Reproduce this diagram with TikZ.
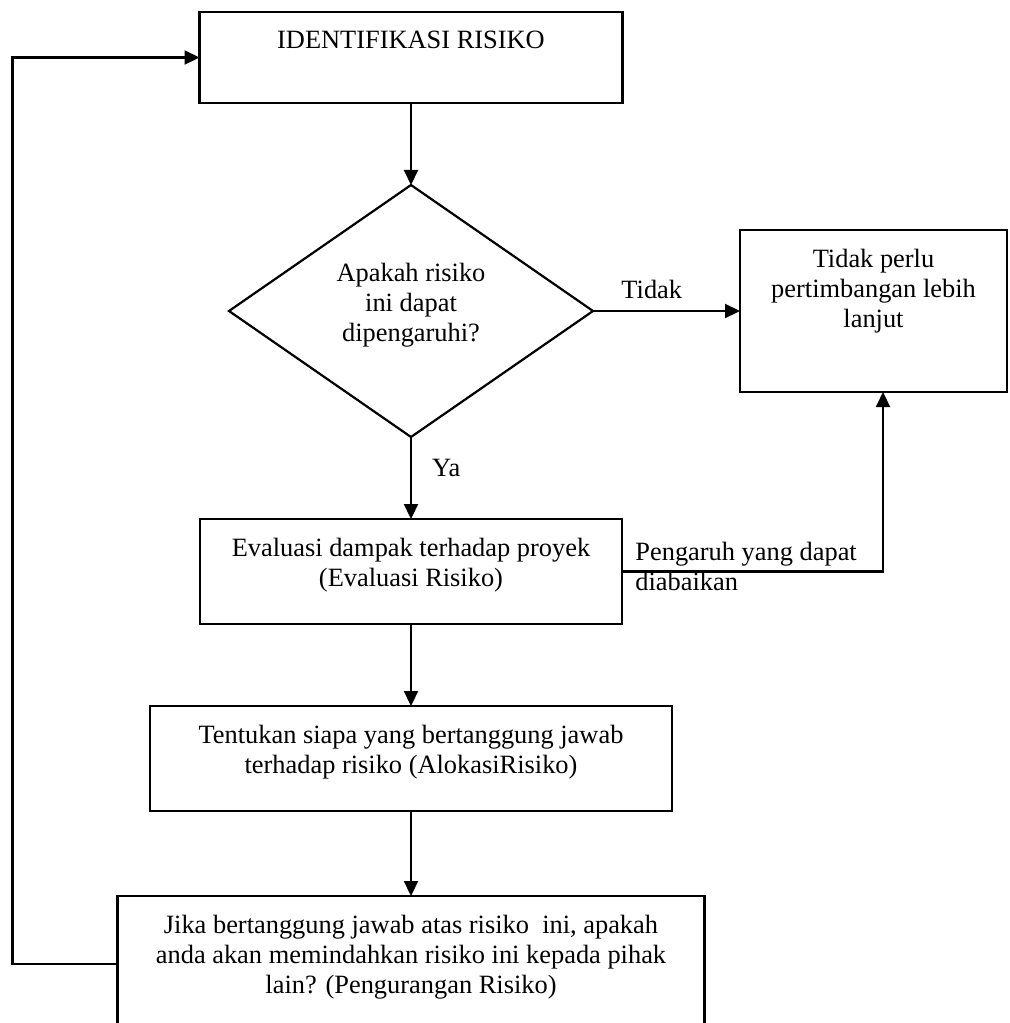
\documentclass[tikz,border=0pt]{standalone}
\usepackage{fontspec}
\setmainfont{Liberation Serif}
\usetikzlibrary{positioning,shapes.geometric,arrows.meta}

\tikzset{
  box/.style={draw, line width=1.1pt, rectangle, outer sep=0pt},
  decision/.style={draw, line width=1.1pt, diamond, outer sep=0pt,
    minimum width=182pt, minimum height=126pt},
  txt/.style={font=\fontsize{13.2pt}{15pt}\selectfont, align=center, inner sep=0pt},
  flow/.style={line width=1.1pt, -{Triangle[length=7.5pt,width=7pt]}},
}

\begin{document}
\begin{tikzpicture}[x=0.5pt,y=-0.5pt]

    \path[use as bounding box, clip] (0,0) rectangle (1009,1023);

    % Define nodes
    \node[box, minimum width=211.5pt, minimum height=45.5pt] (id) at (411,57.5) {};
    \node[decision, below=41pt of id]                                  (q)  {};
    \node[box, minimum width=133.5pt, minimum height=81pt, right=73.5pt of q] (np) {};
    \node[box, minimum width=211pt, minimum height=52.5pt, below=41pt of q]   (ev) {};
    \node[box, minimum width=261pt, minimum height=52.5pt, below=41pt of ev]  (al) {};
    \node[box, minimum width=293.5pt, minimum height=68pt, below=42.5pt of al] (tr) {};

    % Texts
    \node[txt, below=9.5pt of id.north] (tid) {IDENTIFIKASI RISIKO};
    \node[txt, below=39pt of q.north]   (tq)  {Apakah risiko\\ini dapat\\dipengaruhi?};
    \node[txt, below=9.5pt of np.north] (tnp) {Tidak perlu\\pertimbangan lebih\\lanjut};
    \node[txt, below=9.5pt of ev.north] (tev) {Evaluasi dampak terhadap proyek\\(Evaluasi Risiko)};
    \node[txt, below=9.5pt of al.north] (tal) {Tentukan siapa yang bertanggung jawab\\terhadap risiko (AlokasiRisiko)};
    \node[txt, below=9.5pt of tr.north] (ttr) {Jika bertanggung jawab atas risiko\ \ ini, apakah\\anda akan memindahkan risiko ini kepada pihak\\lain? (Pengurangan Risiko)};

    % Connect the nodes
    \draw[flow] (id) -- (q);
    \draw[flow] (q.east) -- node[txt, above=5.5pt, pos=0.4] (lno) {Tidak} (np.west);
    \draw[flow] (q.south) -- node[txt, right=10pt, pos=0.38] (lyes) {Ya} (ev.north);
    \draw[flow] (ev) -- (al);
    \draw[flow] (al) -- (tr);

    % negligible effect
    \node[txt, align=left, right=6.5pt of ev.east, yshift=2.5pt] (lign) {Pengaruh yang dapat\\diabaikan};
    \draw[flow] (ev.east) -| ([xshift=4.75pt]np.south);

    % back to the start
    \coordinate[left=52.5pt of tr.west] (back);
    \draw[flow] (tr.west) -- (back) |- (id.west);

\end{tikzpicture}
\end{document}
